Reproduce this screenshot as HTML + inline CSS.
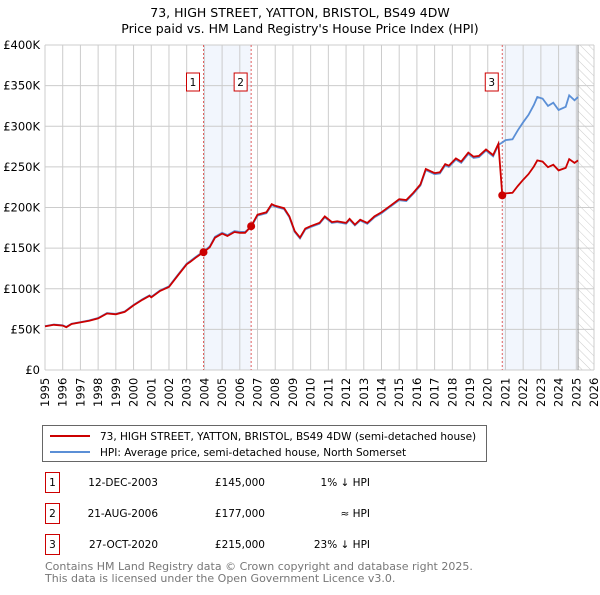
<!DOCTYPE html>
<html><head><meta charset="utf-8"><style>
body{margin:0;background:#fff;font-family:"Liberation Sans","DejaVu Sans",sans-serif;}
svg text{font-family:"DejaVu Sans","Liberation Sans",sans-serif;}
</style></head><body>
<svg id="chart" width="600" height="590" viewBox="0 0 600 590" xmlns="http://www.w3.org/2000/svg">
<defs><pattern id="hatch" width="6" height="6" patternUnits="userSpaceOnUse" patternTransform="rotate(-45)"><line x1="0" y1="0" x2="0" y2="6" stroke="#ccc" stroke-width="1"/></pattern></defs>
<text x="300" y="17" text-anchor="middle" font-size="12.5">73, HIGH STREET, YATTON, BRISTOL, BS49 4DW</text>
<text x="300" y="33" text-anchor="middle" font-size="12.5">Price paid vs. HM Land Registry's House Price Index (HPI)</text>
<g id="plot"></g>
<g id="legend">
<rect x="42.5" y="425.5" width="444" height="36" fill="#fff" stroke="#666"/>
<line x1="50" y1="436" x2="90" y2="436" stroke="#cc0000" stroke-width="2"/>
<text x="100" y="440" font-size="10.5">73, HIGH STREET, YATTON, BRISTOL, BS49 4DW (semi-detached house)</text>
<line x1="50" y1="452" x2="90" y2="452" stroke="#5b8fd6" stroke-width="2"/>
<text x="100" y="456" font-size="10.5">HPI: Average price, semi-detached house, North Somerset</text>
</g>
<g id="table" font-size="10.5"></g>
<text x="45" y="570" font-size="11" fill="#777">Contains HM Land Registry data © Crown copyright and database right 2025.</text>
<text x="45" y="582" font-size="11" fill="#777">This data is licensed under the Open Government Licence v3.0.</text>
</svg>
<script>
const hpiYears=[1995,1995.5,1996,1996.2,1996.5,1997,1997.5,1998,1998.5,1999,1999.5,2000,2000.5,2000.9,2001,2001.5,2002,2002.5,2003,2003.2,2003.5,2003.95,2004.3,2004.6,2005,2005.3,2005.7,2006,2006.3,2006.64,2007,2007.5,2007.8,2008,2008.5,2008.8,2009.1,2009.4,2009.7,2010,2010.5,2010.8,2011.2,2011.5,2012,2012.2,2012.5,2012.8,2013.2,2013.6,2014,2014.5,2015,2015.4,2015.8,2016.2,2016.5,2017,2017.3,2017.6,2017.8,2018.2,2018.5,2018.9,2019.2,2019.5,2019.9,2020.3,2020.6,2020.82,2021,2021.4,2021.7,2022,2022.3,2022.6,2022.8,2023.1,2023.4,2023.7,2024,2024.4,2024.6,2024.9,2025.1];
const hpiValues=[54,56,55,53,57,59,61,64,70,69,72,80,87,92,90,98,103,117,131,134,139,146,152,164,169,166,171,170,170,176,190,193,203,201,198,188,170,162,173,176,180,188,181,182,180,185,178,184,180,188,193,201,209,208,217,227,246,241,242,252,250,259,255,266,261,262,270,263,277,280,283,284,295,305,314,326,336,334,325,329,320,324,338,332,336];
const saleLabels=["1","2","3"];
const saleYears=[2003.95,2006.64,2020.82];
const salePrices=[145,177,215];
const saleDates=["12-DEC-2003","21-AUG-2006","27-OCT-2020"];
const salePriceText=["£145,000","£177,000","£215,000"];
const saleHpiText=["1% ↓ HPI","≈ HPI","23% ↓ HPI"];
const yTicks=[0,50,100,150,200,250,300,350,400];
const yTickLabels=["£0","£50K","£100K","£150K","£200K","£250K","£300K","£350K","£400K"];
const xTicks=[1995,1996,1997,1998,1999,2000,2001,2002,2003,2004,2005,2006,2007,2008,2009,2010,2011,2012,2013,2014,2015,2016,2017,2018,2019,2020,2021,2022,2023,2024,2025,2026];
const dataEnd=2025.1;

const X0=45,X1=594,Y0=370,Y1=45;
const xs=y=>X0+(y-1995)/(2026-1995)*(X1-X0);
const ys=v=>Y0-v/400*(Y0-Y1);
const NS="http://www.w3.org/2000/svg";
function mk(tag,attrs,parent){const e=document.createElementNS(NS,tag);for(const k in attrs)e.setAttribute(k,attrs[k]);parent.appendChild(e);return e;}
const plot=document.getElementById('plot');
function hpiAt(t){for(let i=1;i<hpiYears.length;i++){if(t<=hpiYears[i]){const a=hpiYears[i-1],b=hpiYears[i];return hpiValues[i-1]+(hpiValues[i]-hpiValues[i-1])*(t-a)/(b-a);}}return hpiValues[hpiValues.length-1];}
let s=mk('rect',{x:xs(saleYears[0]),y:Y1,width:xs(saleYears[1])-xs(saleYears[0]),height:Y0-Y1,fill:'#f2f6fd'},plot);


s=mk('rect',{x:xs(saleYears[2]),y:Y1,width:xs(dataEnd)-xs(saleYears[2]),height:Y0-Y1,fill:'#f2f6fd'},plot);


s=mk('rect',{x:xs(dataEnd),y:Y1,width:X1-xs(dataEnd),height:Y0-Y1,fill:'url(#hatch)'},plot);


yTicks.forEach((v,i)=>{
 const l=mk('line',{x1:X0,x2:X1,y1:ys(v),y2:ys(v),stroke:'#ccc','stroke-width':1},plot);
 
 
 const t=mk('text',{x:X0-5,y:ys(v)+4,'text-anchor':'end','font-size':11.5},plot);
 
 
 t.textContent=yTickLabels[i];
});
xTicks.forEach(y=>{
 const l=mk('line',{x1:xs(y),x2:xs(y),y1:Y1,y2:Y0,stroke:'#ccc','stroke-width':1},plot);
 
 
 const t=mk('text',{x:0,y:0,'font-size':11.5,transform:`translate(${xs(y)+4},${Y0+37}) rotate(-90)`},plot);
 
 
 t.textContent=y;
});
let el=mk('line',{x1:xs(dataEnd),x2:xs(dataEnd),y1:Y1,y2:Y0,stroke:'#999','stroke-width':1},plot);


saleYears.forEach((y,i)=>{
 const l=mk('line',{x1:xs(y),x2:xs(y),y1:Y1,y2:Y0,stroke:'#e06060','stroke-width':1,'stroke-dasharray':'2,2'},plot);
 
 
 const r=mk('rect',{x:xs(y)-17,y:73,width:13,height:18,fill:'#fff',stroke:'#cc0000'},plot);
 
 
 const t=mk('text',{x:xs(y)-10.5,y:86,'text-anchor':'middle','font-size':10.5},plot);
 
 
 t.textContent=saleLabels[i];
});
const hp=hpiYears.map((y,i)=>xs(y).toFixed(1)+','+ys(hpiValues[i]).toFixed(1)).join(' ');
el=mk('polyline',{points:hp,fill:'none',stroke:'#5b8fd6','stroke-width':1.8},plot);


function ratioAt(t){let k=0;for(let i=0;i<saleYears.length;i++)if(t>=saleYears[i]-1e-9)k=i;return salePrices[k]/hpiAt(saleYears[k]);}
let pts=[];
hpiYears.forEach((y,i)=>{
 for(let k=0;k<saleYears.length;k++){const prev=hpiYears[i-1];if(prev!==undefined&&prev<saleYears[k]&&y>saleYears[k]){pts.push([saleYears[k],hpiAt(saleYears[k])*(k>0?salePrices[k-1]/hpiAt(saleYears[k-1]):1)]);pts.push([saleYears[k],salePrices[k]]);}}
 pts.push([y,hpiValues[i]*ratioAt(y)]);
});
el=mk('polyline',{points:pts.map(p=>xs(p[0]).toFixed(1)+','+ys(p[1]).toFixed(1)).join(' '),fill:'none',stroke:'#cc0000','stroke-width':1.8},plot);


saleYears.forEach((y,i)=>{
 const c=mk('circle',{cx:xs(y),cy:ys(salePrices[i]),r:4,fill:'#cc0000'},plot);
 
 
});
const tb=document.getElementById('table');
const rowY=[486,517,548];
saleLabels.forEach((lab,i)=>{
 const r=mk('rect',{x:45.5,y:rowY[i]-13.5,width:14,height:20,fill:'#fff',stroke:'#cc0000'},tb);
 
 
 const t0=mk('text',{x:52.5,y:rowY[i],'text-anchor':'middle'},tb);
 
 
 t0.textContent=lab;
 const t1=mk('text',{x:158,y:rowY[i],'text-anchor':'end'},tb);
 
 
 t1.textContent=saleDates[i];
 const t2=mk('text',{x:265,y:rowY[i],'text-anchor':'end'},tb);
 
 
 t2.textContent=salePriceText[i];
 const t3=mk('text',{x:370,y:rowY[i],'text-anchor':'end'},tb);
 
 
 t3.textContent=saleHpiText[i];
});
</script>
</body></html>
